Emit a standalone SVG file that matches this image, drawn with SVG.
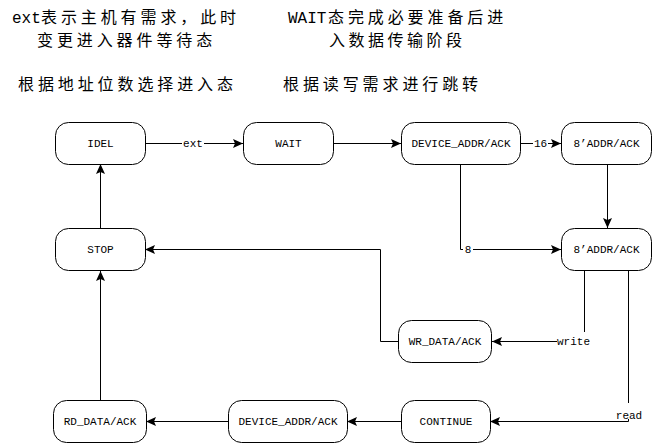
<svg xmlns="http://www.w3.org/2000/svg" width="653" height="444" viewBox="0 0 653 444">
<style>
.node rect{fill:#fff;stroke:#000;stroke-width:1}
.node text,.lbl{font-family:"Liberation Mono","DejaVu Sans Mono",monospace;font-size:11px;fill:#000;text-anchor:middle}
.note{font-family:"Noto Sans CJK SC","Noto Sans",sans-serif;font-size:16px;fill:#000}
.lat{font-family:"Liberation Mono","DejaVu Sans Mono",monospace}
.cj{letter-spacing:3.9px}
.edge{fill:none;stroke:#000;stroke-width:1;marker-end:url(#arr)}
.bg{fill:#fff}
</style>
<defs>
<marker id="arr" viewBox="0 0 10 9" refX="10" refY="4.5" markerWidth="10" markerHeight="9" markerUnits="userSpaceOnUse" orient="auto">
<path d="M0,0 L10,4.5 L0,9 L2,4.5 Z" fill="#000"/>
</marker>
</defs>
<rect width="653" height="444" fill="#fff"/>
<g id="notes">
<text class="note" x="12" y="23"><tspan class="lat">ext</tspan><tspan class="cj" x="41">表示主机有需求，此时</tspan></text>
<text class="note cj" x="37" y="46">变更进入器件等待态</text>
<text class="note cj" x="18" y="90">根据地址位数选择进入态</text>
<text class="note" x="288" y="23"><tspan class="lat">WAIT</tspan><tspan class="cj" x="328">态完成必要准备后进</tspan></text>
<text class="note" x="329" y="46" style="letter-spacing:3.5px">入数据传输阶段</text>
<text class="note cj" x="283" y="90">根据读写需求进行跳转</text>
</g>
<g id="connectors">
<path class="edge" d="M145,143.5 H243"/>
<path class="edge" d="M333,143.5 H401"/>
<path class="edge" d="M520,143.5 H561"/>
<path class="edge" d="M607.5,164 V228"/>
<path class="edge" d="M460.5,164 V249.5 H561"/>
<path class="edge" d="M584.5,271 V341.5 H492"/>
<path class="edge" d="M628.5,271 V421.5 H490"/>
<path class="edge" d="M398,341.5 H380.5 V249.5 H145"/>
<path class="edge" d="M401,421.5 H347"/>
<path class="edge" d="M228,421.5 H146"/>
<path class="edge" d="M100.5,400 V271"/>
<path class="edge" d="M100.5,228 V164"/>
<rect class="bg" x="182" y="137" width="22" height="13"/>
<text class="lbl" x="193" y="147">ext</text>
<rect class="bg" x="533" y="137" width="15" height="13"/>
<text class="lbl" x="540.5" y="147">16</text>
<rect class="bg" x="463" y="243" width="10" height="13"/>
<text class="lbl" x="468" y="253">8</text>
<rect class="bg" x="557" y="332" width="34" height="17"/>
<text class="lbl" x="573.5" y="345">write</text>
<rect class="bg" x="613" y="403" width="33" height="16"/>
<text class="lbl" x="629" y="419">read</text>
</g>
<g id="n-idel" class="node"><rect x="55.5" y="122.5" width="90" height="42" rx="13"/><text x="100.5" y="147">IDEL</text></g>
<g id="n-wait" class="node"><rect x="243.5" y="122.5" width="90" height="42" rx="13"/><text x="288.5" y="147">WAIT</text></g>
<g id="n-dev1" class="node"><rect x="401.5" y="122.5" width="119" height="42" rx="13"/><text x="461" y="147">DEVICE_ADDR/ACK</text></g>
<g id="n-addr1" class="node"><rect x="561.5" y="122.5" width="90" height="42" rx="13"/><text x="606.5" y="147">8’ADDR/ACK</text></g>
<g id="n-addr2" class="node"><rect x="561.5" y="228.5" width="90" height="42" rx="13"/><text x="606.5" y="253">8’ADDR/ACK</text></g>
<g id="n-stop" class="node"><rect x="55.5" y="228.5" width="90" height="42" rx="13"/><text x="100.5" y="253">STOP</text></g>
<g id="n-wr" class="node"><rect x="398.5" y="320.5" width="93" height="42" rx="13"/><text x="445" y="345">WR_DATA/ACK</text></g>
<g id="n-cont" class="node"><rect x="401.5" y="400.5" width="89" height="42" rx="13"/><text x="446" y="425">CONTINUE</text></g>
<g id="n-dev2" class="node"><rect x="228.5" y="400.5" width="119" height="42" rx="13"/><text x="288" y="425">DEVICE_ADDR/ACK</text></g>
<g id="n-rd" class="node"><rect x="53.5" y="400.5" width="93" height="42" rx="13"/><text x="100" y="425">RD_DATA/ACK</text></g>
</svg>
